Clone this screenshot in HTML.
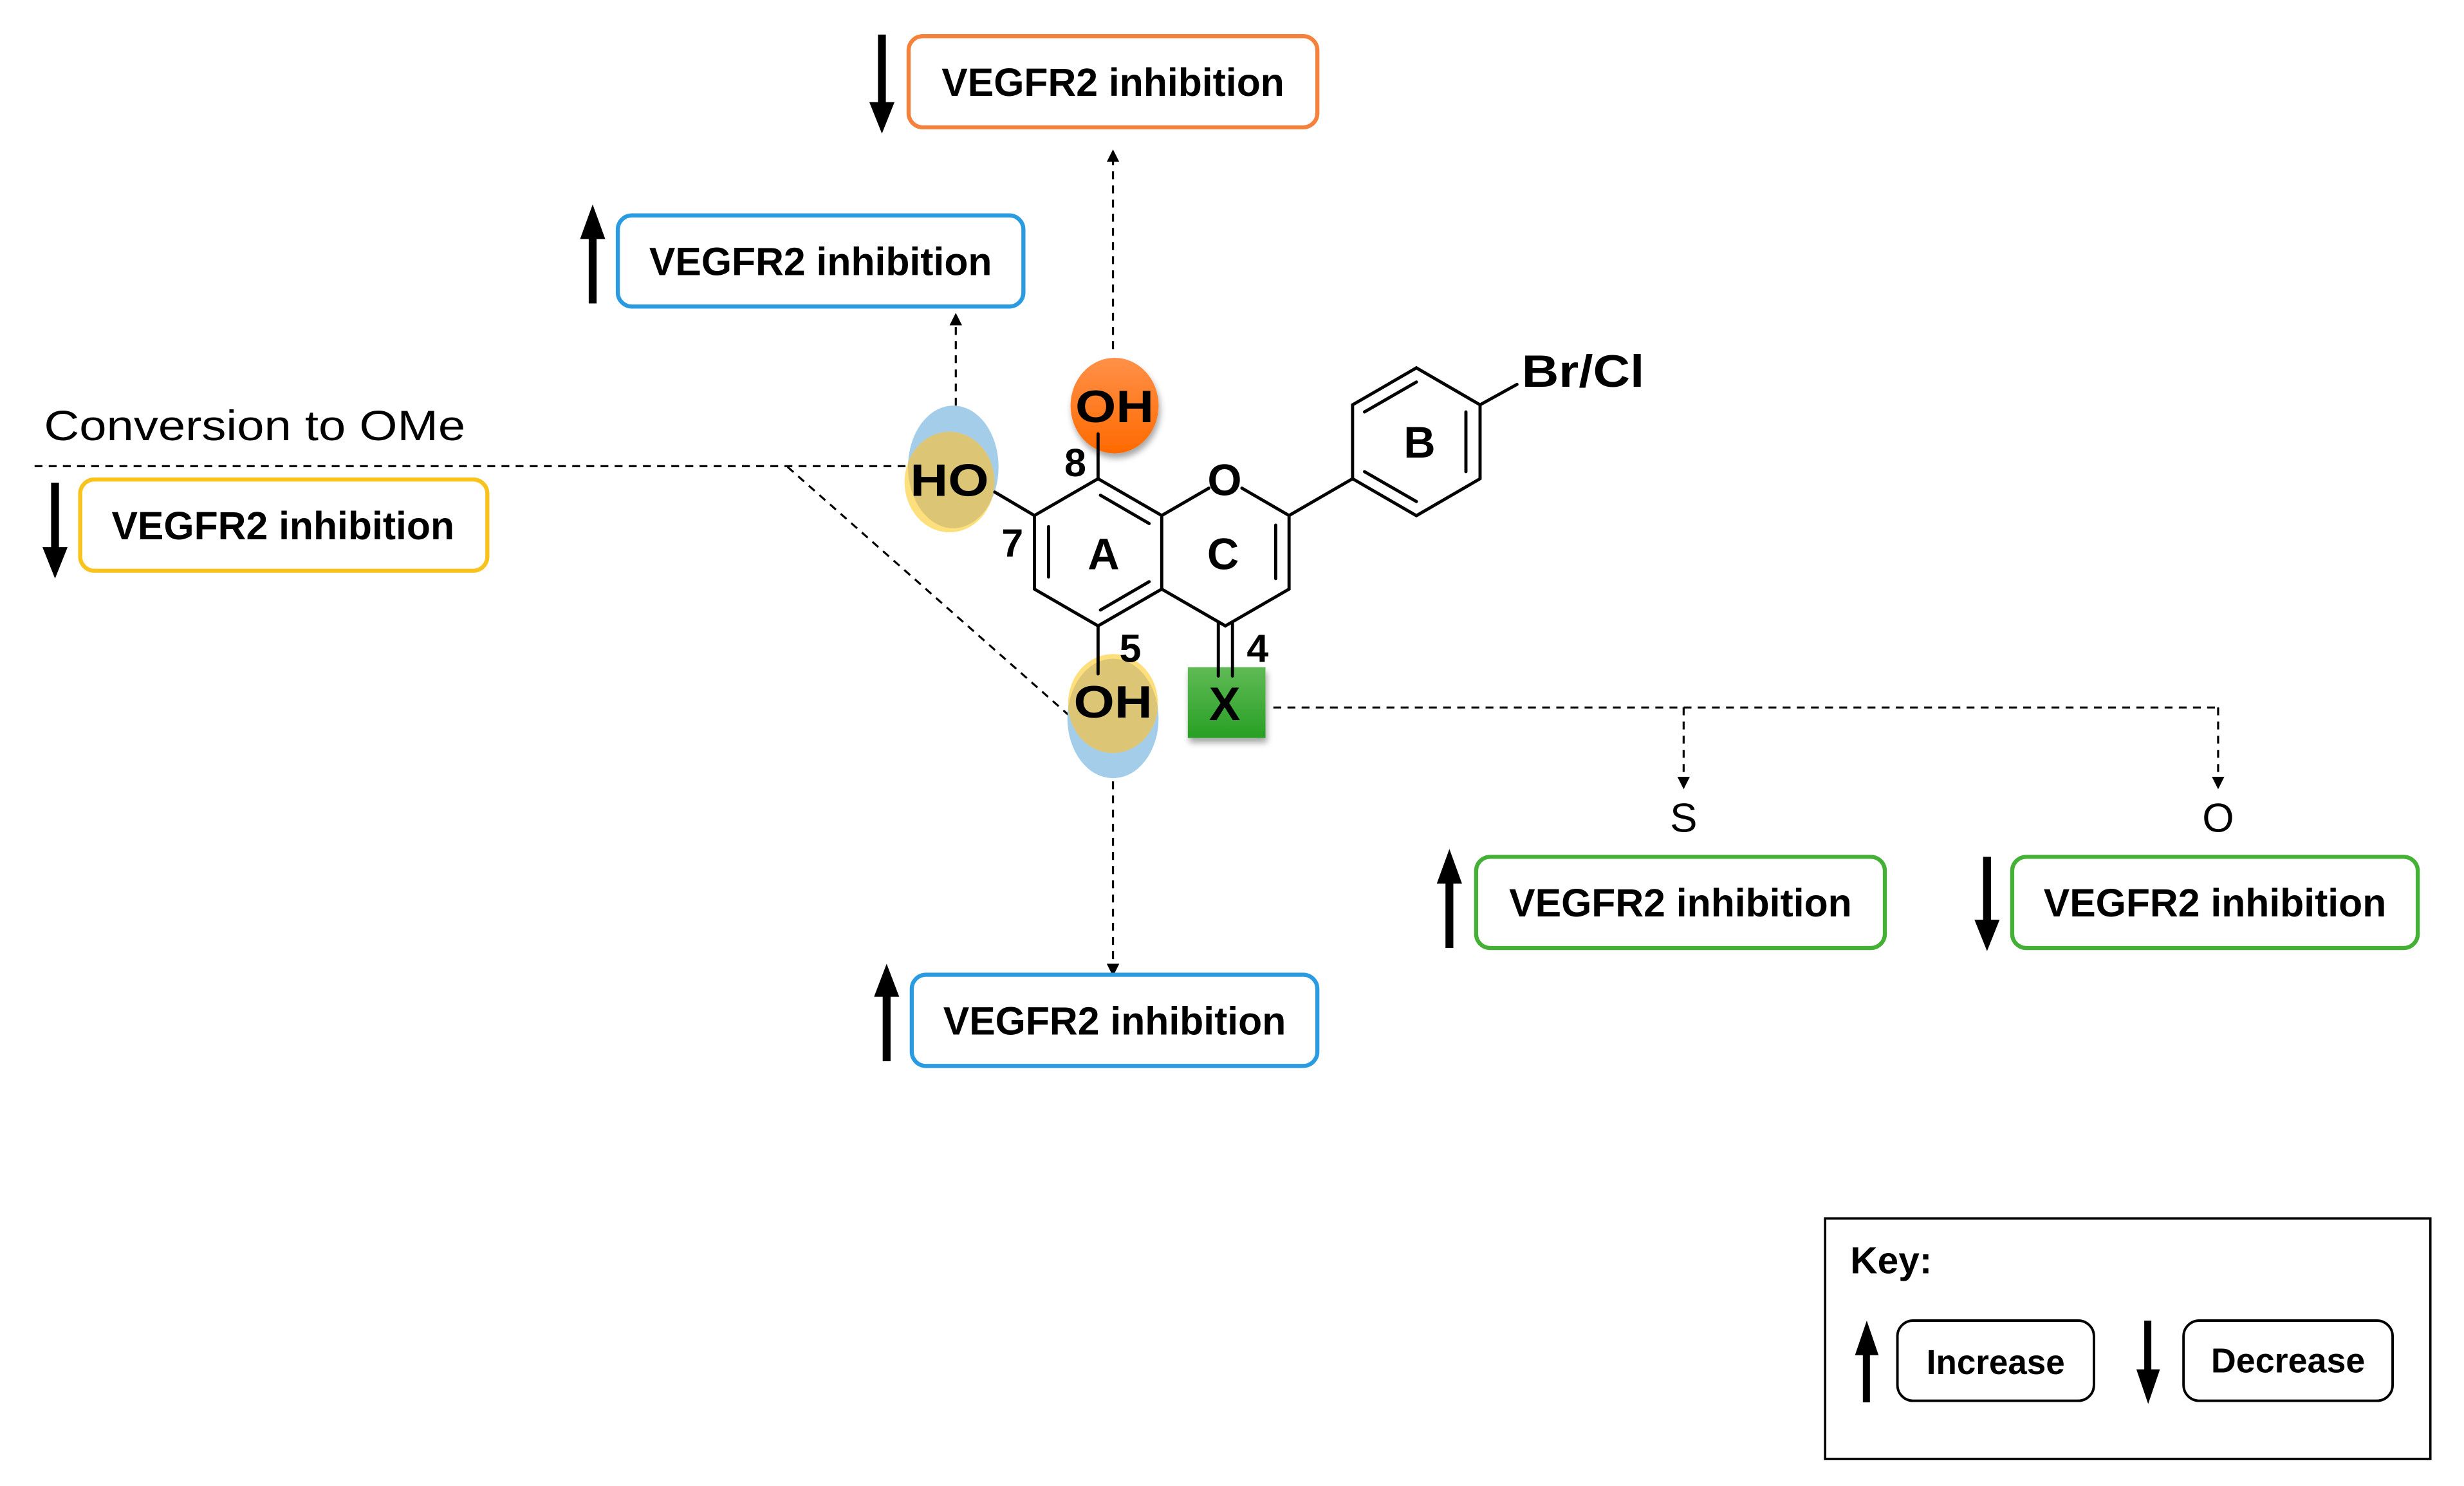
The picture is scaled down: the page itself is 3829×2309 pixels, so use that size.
<!DOCTYPE html>
<html><head><meta charset="utf-8"><style>html,body{margin:0;padding:0;background:#fff}svg{display:block}</style></head>
<body>
<svg width="3829" height="2309" viewBox="0 0 1567.4 945.2" xmlns="http://www.w3.org/2000/svg" font-family="Liberation Sans, sans-serif">
<defs>
<marker id="ah" markerWidth="8" markerHeight="8" refX="6" refY="4" orient="auto" markerUnits="userSpaceOnUse"><path d="M0,0 L8,4 L0,8 Z" fill="#000"/></marker>
<linearGradient id="og" x1="0" y1="0" x2="0" y2="1"><stop offset="0" stop-color="#ff9048"/><stop offset="1" stop-color="#ff6a00"/></linearGradient>
<linearGradient id="gg" x1="0" y1="0" x2="0" y2="1"><stop offset="0" stop-color="#5fba55"/><stop offset="1" stop-color="#28a024"/></linearGradient>
<filter id="sh" x="-30%" y="-30%" width="160%" height="160%"><feDropShadow dx="1" dy="3" stdDeviation="2" flood-color="#000" flood-opacity="0.35"/></filter>
<clipPath id="c7"><ellipse cx="606.4" cy="297" rx="28.8" ry="39"/></clipPath>
<clipPath id="c5"><ellipse cx="708" cy="457" rx="29" ry="38"/></clipPath>
</defs>

<!-- dashed connectors -->
<g stroke="#000" stroke-width="1.3" stroke-dasharray="5,4" fill="none">
<line x1="708" y1="222" x2="708" y2="97" marker-end="url(#ah)"/>
<line x1="608" y1="258" x2="608" y2="201" marker-end="url(#ah)"/>
<line x1="22" y1="296.5" x2="578" y2="296.5"/>
<line x1="501" y1="297" x2="680" y2="455"/>
<line x1="708" y1="497" x2="708" y2="619" marker-end="url(#ah)"/>
<line x1="810" y1="450" x2="1411" y2="450"/>
<line x1="1071" y1="450" x2="1071" y2="500" marker-end="url(#ah)"/>
<line x1="1411" y1="450" x2="1411" y2="500" marker-end="url(#ah)"/>
</g>

<!-- highlight ellipses -->
<ellipse cx="606.4" cy="297" rx="28.8" ry="39" fill="#a4cdea"/>
<ellipse cx="604" cy="306.6" rx="28.6" ry="32" fill="#fddf7c"/>
<ellipse cx="604" cy="306.6" rx="28.6" ry="32" fill="#dcc574" clip-path="url(#c7)"/>
<ellipse cx="708" cy="457" rx="29" ry="38" fill="#a4cdea"/>
<ellipse cx="708" cy="447.5" rx="28.6" ry="31.5" fill="#fddf7c"/>
<ellipse cx="708" cy="447.5" rx="28.6" ry="31.5" fill="#dcc574" clip-path="url(#c5)"/>
<ellipse cx="709" cy="258" rx="28" ry="30.4" fill="url(#og)" filter="url(#sh)"/>
<rect x="755.6" y="424.4" width="49.4" height="45" fill="url(#gg)" filter="url(#sh)"/>

<!-- bonds -->
<g stroke="#000" stroke-width="2" fill="none" stroke-linecap="round">
<polyline points="698.5,304.5 739,327.9 739,374.7 698.5,398.1 658,374.7 658,327.9 698.5,304.5"/>
<line x1="739" y1="327.9" x2="769" y2="310.5"/>
<polyline points="790,310.5 820,327.9 820,374.7 779.5,398.1 739,374.7"/>
<line x1="667" y1="335" x2="667" y2="367"/>
<line x1="700" y1="315" x2="731" y2="333"/>
<line x1="700" y1="388" x2="731" y2="370"/>
<line x1="811.5" y1="334" x2="811.5" y2="368"/>
<line x1="820" y1="327.9" x2="860.4" y2="304.5"/>
<polygon points="860.4,304.5 860.4,257.5 901,234 941.5,257.5 941.5,304.5 901,328"/>
<line x1="868" y1="262" x2="901" y2="243"/>
<line x1="868" y1="300" x2="901" y2="319"/>
<line x1="932.5" y1="262" x2="932.5" y2="300"/>
<line x1="941.5" y1="257.5" x2="965" y2="244.5"/>
<line x1="658" y1="327.9" x2="632.8" y2="313"/>
<line x1="698.5" y1="304.5" x2="698.5" y2="276"/>
<line x1="698.5" y1="398.1" x2="698.5" y2="428.6"/>
<line x1="775" y1="396" x2="775" y2="430"/>
<line x1="784" y1="396" x2="784" y2="430"/>
</g>

<!-- atom labels -->
<g font-weight="bold" fill="#000" text-anchor="middle">
<text x="709" y="268.5" font-size="29" textLength="50" lengthAdjust="spacingAndGlyphs">OH</text>
<text x="604" y="315.5" font-size="29" textLength="50" lengthAdjust="spacingAndGlyphs">HO</text>
<text x="708" y="456.5" font-size="29" textLength="50" lengthAdjust="spacingAndGlyphs">OH</text>
<text x="779" y="458" font-size="30">X</text>
<text x="779" y="315" font-size="28">O</text>
<text x="702" y="362" font-size="28">A</text>
<text x="778" y="362" font-size="28">C</text>
<text x="903" y="291" font-size="28">B</text>
<text x="1007" y="246" font-size="29" textLength="78" lengthAdjust="spacingAndGlyphs">Br/Cl</text>
<text x="644" y="354" font-size="25">7</text>
<text x="684" y="303" font-size="25">8</text>
<text x="719" y="421" font-size="25">5</text>
<text x="800" y="421" font-size="25">4</text>
</g>

<text x="28" y="280" font-size="27" textLength="268" lengthAdjust="spacingAndGlyphs">Conversion to OMe</text>
<text x="1071" y="529" font-size="26" text-anchor="middle">S</text>
<text x="1411" y="529" font-size="26" text-anchor="middle">O</text>

<!-- boxes -->
<g fill="#fff" stroke-width="2.6">
<rect x="578" y="23" width="260" height="58" rx="9" stroke="#f5823c"/>
<rect x="393" y="137" width="258" height="58" rx="9" stroke="#2a9be0"/>
<rect x="51" y="305" width="259" height="58" rx="9" stroke="#f7c31c"/>
<rect x="580" y="620" width="258" height="58" rx="9" stroke="#2a9be0"/>
<rect x="939" y="545" width="260" height="58" rx="9" stroke="#44b035"/>
<rect x="1280" y="545" width="258" height="58" rx="9" stroke="#44b035"/>
</g>
<g font-size="25" font-weight="bold" text-anchor="middle" fill="#000">
<text x="708" y="61" textLength="218" lengthAdjust="spacingAndGlyphs">VEGFR2 inhibition</text>
<text x="522" y="175" textLength="218" lengthAdjust="spacingAndGlyphs">VEGFR2 inhibition</text>
<text x="180" y="343" textLength="218" lengthAdjust="spacingAndGlyphs">VEGFR2 inhibition</text>
<text x="709" y="658" textLength="218" lengthAdjust="spacingAndGlyphs">VEGFR2 inhibition</text>
<text x="1069" y="583" textLength="218" lengthAdjust="spacingAndGlyphs">VEGFR2 inhibition</text>
<text x="1409" y="583" textLength="218" lengthAdjust="spacingAndGlyphs">VEGFR2 inhibition</text>
</g>

<!-- thick arrows -->
<g fill="#000">
<!-- down at 561 -->
<rect x="558.5" y="22" width="5" height="45"/><path d="M553,65 L569,65 L561,85 Z"/>
<rect x="374.5" y="150" width="5" height="43"/><path d="M369,152 L385,152 L377,130 Z"/>
<rect x="32.5" y="307" width="5" height="43"/><path d="M27,348 L43,348 L35,368 Z"/>
<rect x="561.5" y="632" width="5" height="43"/><path d="M556,634 L572,634 L564,613 Z"/>
<rect x="919.5" y="560" width="5" height="43"/><path d="M914,562 L930,562 L922,540 Z"/>
<rect x="1261.5" y="545" width="5" height="42"/><path d="M1256,585 L1272,585 L1264,605 Z"/>
</g>

<!-- key -->
<rect x="1161" y="775" width="385" height="153" fill="none" stroke="#000" stroke-width="1.5"/>
<text x="1177" y="810" font-size="24" font-weight="bold">Key:</text>
<g fill="#000">
<rect x="1185" y="860" width="4.5" height="32"/><path d="M1180,862 L1195,862 L1187.5,840 Z"/>
<rect x="1364" y="840" width="4.5" height="33"/><path d="M1359,871 L1374,871 L1366.5,893 Z"/>
</g>
<rect x="1207" y="840" width="125" height="51" rx="10" fill="none" stroke="#000" stroke-width="1.6"/>
<rect x="1389" y="840" width="133" height="51" rx="10" fill="none" stroke="#000" stroke-width="1.6"/>
<text x="1269.5" y="874" font-size="22" font-weight="bold" text-anchor="middle" textLength="88" lengthAdjust="spacingAndGlyphs">Increase</text>
<text x="1455.5" y="873" font-size="22" font-weight="bold" text-anchor="middle" textLength="98" lengthAdjust="spacingAndGlyphs">Decrease</text>
</svg>
</body></html>
